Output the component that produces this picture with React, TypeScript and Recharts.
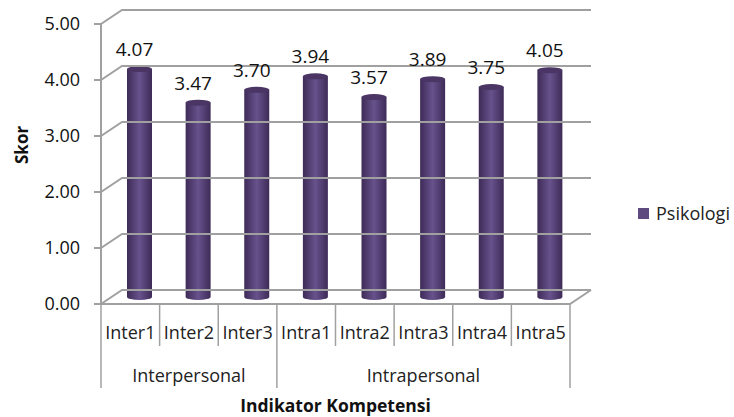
import { BarChart, Bar, XAxis, YAxis, ReferenceLine, LabelList, Legend } from "recharts";

const categories = ["Inter1", "Inter2", "Inter3", "Intra1", "Intra2", "Intra3", "Intra4", "Intra5"];
const psikologi = [4.07, 3.47, 3.7, 3.94, 3.57, 3.89, 3.75, 4.05];
const yTicks = [0, 1, 2, 3, 4, 5];
const groupNames = ["Interpersonal", "Intrapersonal"];
const groupSizes = [3, 5];

const data = categories.map((name, i) => ({ name, Psikologi: psikologi[i] }));

const FONT = '"Open Sans", sans-serif';
const AXIS_GREY = "#a0a0a0";
const PLOT_W = 469;
const BAND = PLOT_W / categories.length;
/* depth of the fake 3D box */
const DEPTH_X = 21;
const DEPTH_Y = 14;
/* bars stand in the middle of the floor */
const BAR_DX = 9;
const BAR_DY = -7;

function WallLine({ x1, y1, x2 }: any) {
  const isFloor = Math.abs(y1 - 304) < 1;
  return (
    <g fill="none" stroke={AXIS_GREY} strokeWidth={2}>
      <polyline points={`${x1},${y1} ${x1 + DEPTH_X},${y1 - DEPTH_Y} ${x2 + DEPTH_X},${y1 - DEPTH_Y}`} />
      {isFloor && <polyline points={`${x1},${y1} ${x2},${y1} ${x2 + DEPTH_X},${y1 - DEPTH_Y}`} />}
    </g>
  );
}

function Cylinder({ x, y, width, height }: any) {
  const left = x + BAR_DX;
  const top = y + BAR_DY;
  const right = left + width;
  const bottom = top + height;
  const ry = 3;
  return (
    <g>
      <path
        d={`M${left},${top} L${left},${bottom} A${width / 2},${ry} 0 0 0 ${right},${bottom} L${right},${top} Z`}
        fill="url(#cyl)"
      />
      <ellipse cx={left + width / 2} cy={top} rx={width / 2} ry={ry} fill="#4a3565" />
    </g>
  );
}

function CategoryTick({ x, y, payload, index }: any) {
  const left = x - BAND / 2;
  let start = 0;
  let group = -1;
  groupSizes.forEach((size, g) => {
    if (index === start) group = g;
    start += size;
  });
  const isLast = index === categories.length - 1;
  return (
    <g>
      <line x1={left} y1={y} x2={left} y2={y + (group >= 0 ? 84 : 42)} stroke={AXIS_GREY} strokeWidth={1.5} />
      {isLast && <line x1={left + BAND} y1={y} x2={left + BAND} y2={y + 84} stroke={AXIS_GREY} strokeWidth={1.5} />}
      <text x={x} y={y + 35} textAnchor="middle" fontSize={18} fontFamily={FONT} fill="#222">
        {payload.value}
      </text>
      {group >= 0 && (
        <text
          x={left + (groupSizes[group] * BAND) / 2}
          y={y + 78}
          textAnchor="middle"
          fontSize={18}
          fontFamily={FONT}
          fill="#222"
        >
          {groupNames[group]}
        </text>
      )}
    </g>
  );
}

function ValueLabel({ x, y, width, value }: any) {
  return (
    <text x={x + width / 2 + 4} y={y - 20} textAnchor="middle" fontSize={19} fontFamily={FONT} fill="#111">
      {Number(value).toFixed(2)}
    </text>
  );
}

function LegendBox({ payload }: any) {
  return (
    <div>
      {(payload || []).map((item: any) => (
        <div key={item.value} style={{ display: "flex", alignItems: "center", whiteSpace: "nowrap" }}>
          <span style={{ width: 11, height: 11, marginRight: 7, background: item.color }} />
          <span style={{ color: "#222", fontSize: 18, fontFamily: FONT }}>{item.value}</span>
        </div>
      ))}
    </div>
  );
}

export default function App() {
  return (
    <div style={{ position: "absolute", left: 0, top: 0, background: "#fff" }}>
      <BarChart
        width={734}
        height={417}
        data={data}
        margin={{ top: 24, right: 68, bottom: 0, left: 0 }}
        barCategoryGap={0}
      >
        <defs>
          <linearGradient id="cyl" x1="0" y1="0" x2="1" y2="0">
            <stop offset="0%" stopColor="#3e2b57" />
            <stop offset="50%" stopColor="#67528c" />
            <stop offset="100%" stopColor="#3e2b57" />
          </linearGradient>
        </defs>
        <XAxis
          dataKey="name"
          height={113}
          tick={CategoryTick}
          tickLine={false}
          axisLine={false}
          tickSize={0}
          tickMargin={0}
          interval={0}
          label={{
            value: "Indikator Kompetensi",
            position: "insideBottom",
            offset: 5,
            fontSize: 17.5,
            fontWeight: 700,
            fontFamily: FONT,
            fill: "#111",
          }}
        />
        <YAxis
          width={101}
          domain={[0, 5]}
          ticks={yTicks}
          tickFormatter={(v: number) => v.toFixed(2)}
          tick={{ fontSize: 18, fontFamily: FONT, fill: "#111" }}
          tickLine={{ stroke: AXIS_GREY, strokeWidth: 2 }}
          axisLine={{ stroke: AXIS_GREY, strokeWidth: 2 }}
          tickSize={7}
          tickMargin={14}
          label={{
            value: "Skor",
            angle: -90,
            position: "insideLeft",
            offset: 22,
            fontSize: 17,
            fontWeight: 700,
            fontFamily: FONT,
            fill: "#111",
          }}
        />
        {yTicks.map((t) => (
          <ReferenceLine key={t} y={t} shape={WallLine} />
        ))}
        <Legend
          layout="vertical"
          align="right"
          verticalAlign="middle"
          width={96}
          wrapperStyle={{ top: 201, left: 638 }}
          content={LegendBox}
        />
        <Bar dataKey="Psikologi" fill="#5f4a80" barSize={25} shape={Cylinder} isAnimationActive={false}>
          <LabelList dataKey="Psikologi" content={ValueLabel} />
        </Bar>
      </BarChart>
    </div>
  );
}
